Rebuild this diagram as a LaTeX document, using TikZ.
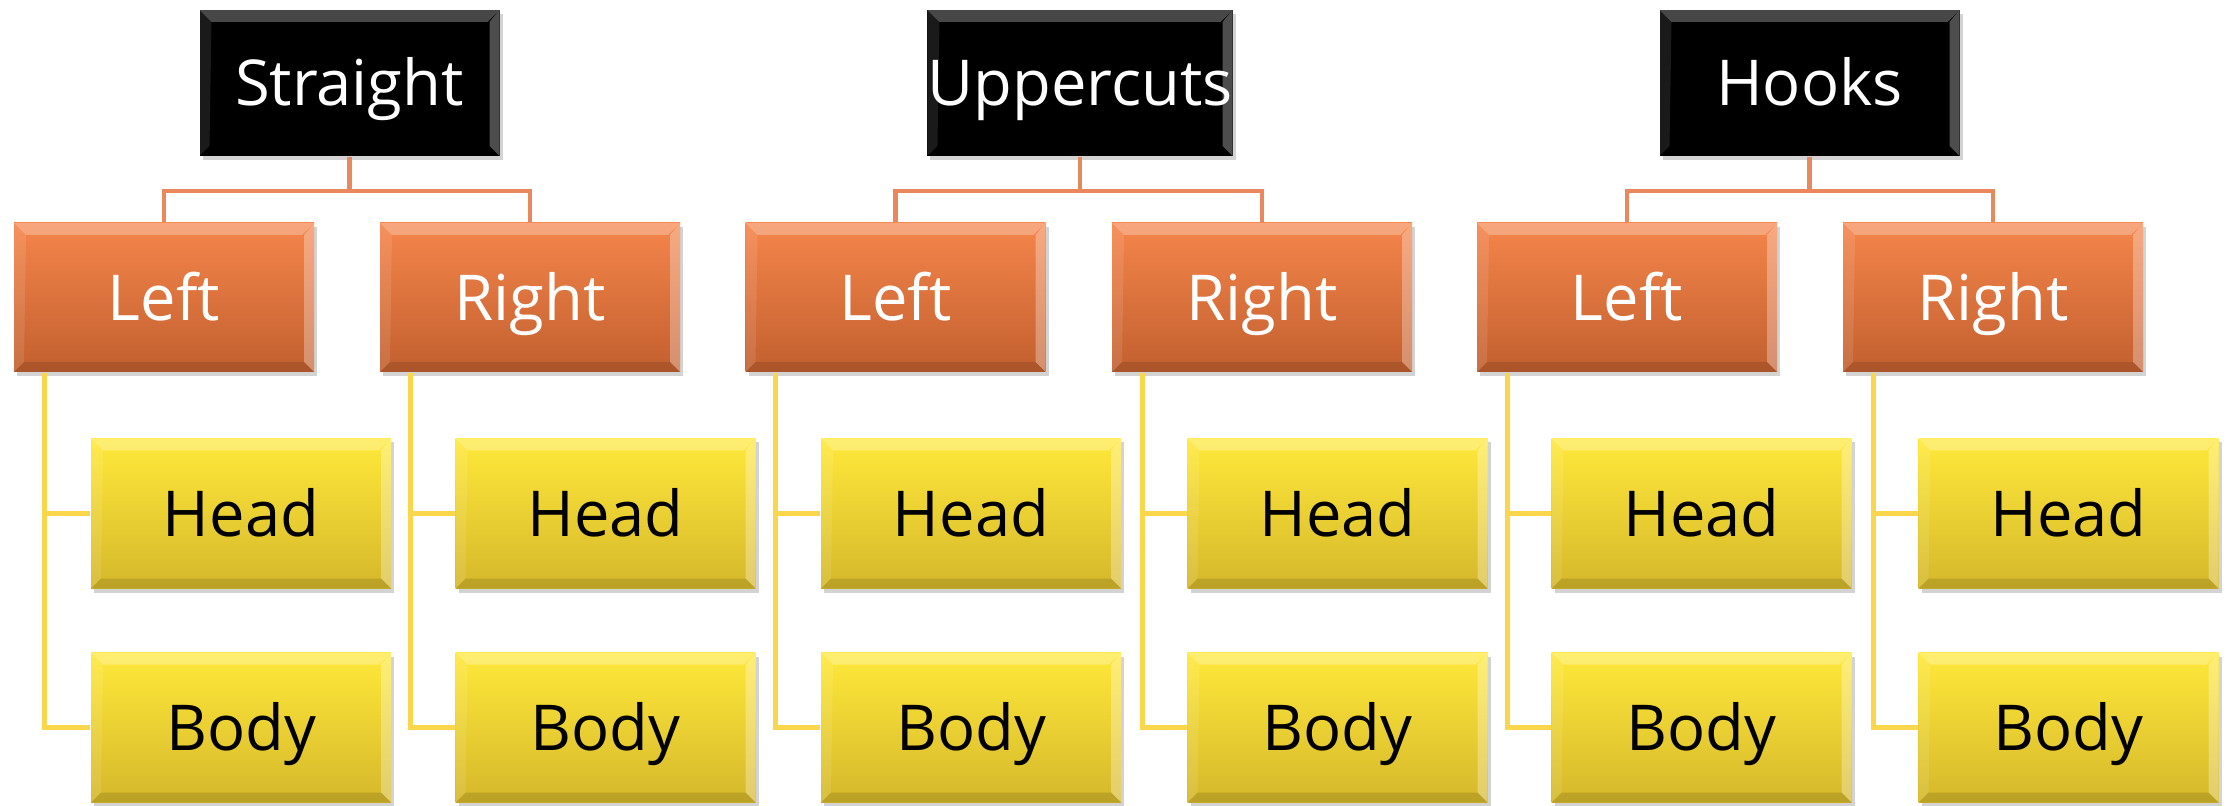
\documentclass[tikz,border=0pt]{standalone}
\usepackage{fontspec}
\setmainfont{Open Sans}
\usetikzlibrary{shadows,calc}

\definecolor{orangetop}{HTML}{F5854B}
\definecolor{orangebot}{HTML}{C2602F}
\definecolor{yellowtop}{HTML}{FFE93A}
\definecolor{yellowbot}{HTML}{D5B72B}
\definecolor{orangeline}{HTML}{E9885C}
\definecolor{yellowline}{HTML}{F9D64B}

\tikzset{
  bevel/.style={path picture={
    \coordinate (nw) at (path picture bounding box.north west);
    \coordinate (ne) at (path picture bounding box.north east);
    \coordinate (sw) at (path picture bounding box.south west);
    \coordinate (se) at (path picture bounding box.south east);
    \fill[white,opacity=0.28] (nw) -- (ne) -- ([shift={(-0.12,-0.12)}]ne) -- ([shift={(0.12,-0.12)}]nw) -- cycle;
    \fill[white,opacity=0.3] (ne) -- (se) -- ([shift={(-0.1,0.1)}]se) -- ([shift={(-0.1,-0.12)}]ne) -- cycle;
    \fill[white,opacity=0.1] (nw) -- (sw) -- ([shift={(0.1,0.1)}]sw) -- ([shift={(0.12,-0.12)}]nw) -- cycle;
    \fill[black,opacity=0.12] (sw) -- (se) -- ([shift={(-0.1,0.1)}]se) -- ([shift={(0.1,0.1)}]sw) -- cycle;
  }},
  box/.style={rectangle, minimum width=3.0cm, inner sep=0pt, bevel,
    font=\fontsize{18}{21}\selectfont, text height=12.85pt, text depth=0pt,
    drop shadow={shadow xshift=0.03cm, shadow yshift=-0.04cm, opacity=0.35, fill=gray}},
  topbox/.style={box, minimum height=1.46cm, fill=black, text=white},
  armbox/.style={box, minimum height=1.49cm, top color=orangetop, bottom color=orangebot, text=white},
  targetbox/.style={box, minimum height=1.5cm, top color=yellowtop, bottom color=yellowbot, text=black},
  armlink/.style={draw=orangeline, line width=1.2pt},
  targetlink/.style={draw=yellowline, line width=1.5pt},
}

\begin{document}
\begin{tikzpicture}
  \useasboundingbox (0,0) rectangle (22.29,-8.06);

  % punch families
  \node[topbox] (S) at (3.495,-0.83) {Straight};
  \node[topbox] (U) at (10.80,-0.83) {Uppercuts};
  \node[topbox] (K) at (18.095,-0.83) {Hooks};

  % hands
  \node[armbox] (SL) at (1.64,-2.975) {Left};
  \node[armbox] (SR) at (5.30,-2.975) {Right};
  \node[armbox] (UL) at (8.955,-2.975) {Left};
  \node[armbox] (UR) at (12.62,-2.975) {Right};
  \node[armbox] (KL) at (16.27,-2.975) {Left};
  \node[armbox] (KR) at (19.93,-2.975) {Right};

  % targets
  \foreach \n/\x in {SL/2.41, SR/6.055, UL/9.71, UR/13.375, KL/17.015, KR/20.685} {
    \node[targetbox] (\n H) at (\x,-5.135) {Head};
    \node[targetbox] (\n B) at (\x,-7.275) {Body};
  }

  % connectors from family to hands
  \foreach \p/\l/\r in {S/SL/SR, U/UL/UR, K/KL/KR} {
    \draw[armlink] (\p.south) -- ++(0,-0.34) -| (\l.north);
    \draw[armlink] (\p.south) -- ++(0,-0.34) -| (\r.north);
  }

  % connectors from hands to targets
  \foreach \n in {SL, SR, UL, UR, KL, KR} {
    \draw[targetlink] ([xshift=0.31cm]\n.south west) |- (\n H.west);
    \draw[targetlink] ([xshift=0.31cm]\n.south west) |- (\n B.west);
  }
\end{tikzpicture}
\end{document}
